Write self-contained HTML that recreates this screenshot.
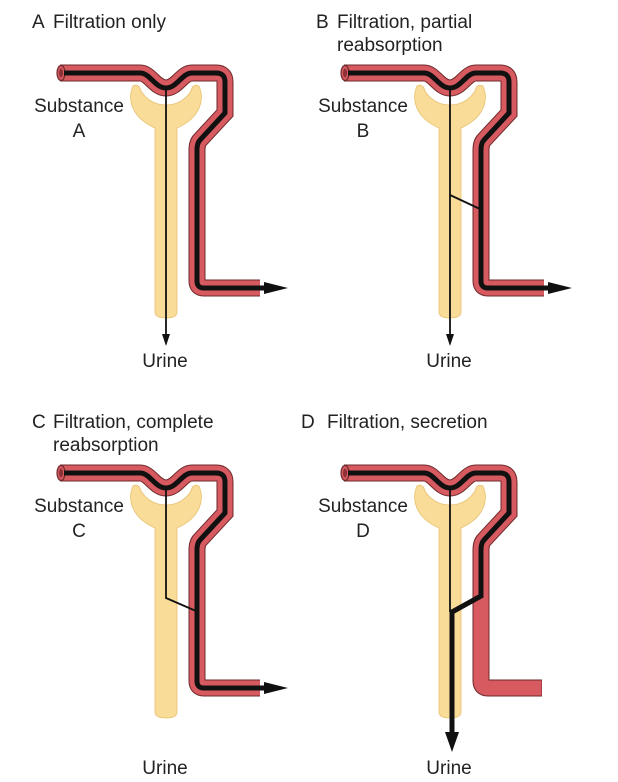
<!DOCTYPE html>
<html><head><meta charset="utf-8"><style>
html,body{margin:0;padding:0;background:#fff;}
svg{display:block;}
text{font-family:"Liberation Sans",Arial,sans-serif;font-size:19px;fill:#222;}
</style></head><body>
<svg width="618" height="782" viewBox="0 0 618 782">
<defs>
<path id="ves" d="M60,73 L140,73 C150,73 155,88 166,88 C177,88 182,73 192,73 L216,73 Q225,73 225,82 L225,113 L200,140 Q197,143 197,150 L197,281 Q197,288 204,288 L260,288"/>
<path id="cup" d="M133,86 C127,100 132,118 155,128 L155,312 Q155,318 166,318 Q177,318 177,312 L177,128 C200,118 205,100 199,86 C195,84 192,86 191,91 C185,101 175,105 166,105 C157,105 147,101 141,91 C140,86 136,84 133,86 Z" fill="#f9dc97" stroke="#e8c070" stroke-width="0.8"/>
<g id="base">
<use href="#cup"/>
<use href="#ves" fill="none" stroke="#6e2a2c" stroke-width="17"/>
<use href="#ves" fill="none" stroke="#d65a60" stroke-width="15"/>
<ellipse cx="61" cy="73" rx="4" ry="7.5" fill="#d65a60" stroke="#6e2a2c" stroke-width="1.2"/>
<ellipse cx="61" cy="73" rx="2" ry="4.5" fill="#8c3236"/>
</g>
</defs>

<text x="32" y="28">A</text><text x="53" y="28">Filtration only</text>
<g>
<use href="#base"/>
<path d="M64,73 L140,73 C150,73 155,88 166,88 C177,88 182,73 192,73 L216,73 Q225,73 225,82 L225,113 L200,140 Q197,143 197,150 L197,281 Q197,288 204,288 L266,288" fill="none" stroke="#111" stroke-width="5"/>
<polygon points="264,282 288,288 264,294" fill="#111"/>
<line x1="166" y1="88" x2="166" y2="336" stroke="#111" stroke-width="1.8"/>
<polygon points="162,334 166,346 170,334" fill="#111"/>
</g>
<text x="79" y="112" text-anchor="middle">Substance</text><text x="79" y="137" text-anchor="middle">A</text>
<text x="165" y="367" text-anchor="middle">Urine</text>

<text x="316" y="28">B</text><text x="337" y="28">Filtration, partial</text><text x="337" y="51">reabsorption</text>
<g transform="translate(284,0)">
<use href="#base"/>
<path d="M64,73 L140,73 C150,73 155,88 166,88 C177,88 182,73 192,73 L216,73 Q225,73 225,82 L225,113 L200,140 Q197,143 197,150 L197,281 Q197,288 204,288 L266,288" fill="none" stroke="#111" stroke-width="5"/>
<polygon points="264,282 288,288 264,294" fill="#111"/>
<line x1="166" y1="88" x2="166" y2="336" stroke="#111" stroke-width="1.8"/>
<line x1="166" y1="195" x2="196" y2="209" stroke="#111" stroke-width="1.8"/>
<polygon points="162,334 166,346 170,334" fill="#111"/>
</g>
<text x="363" y="112" text-anchor="middle">Substance</text><text x="363" y="137" text-anchor="middle">B</text>
<text x="449" y="367" text-anchor="middle">Urine</text>

<text x="32" y="428">C</text><text x="53" y="428">Filtration, complete</text><text x="53" y="451">reabsorption</text>
<g transform="translate(0,400)">
<use href="#base"/>
<path d="M64,73 L140,73 C150,73 155,88 166,88 C177,88 182,73 192,73 L216,73 Q225,73 225,82 L225,113 L200,140 Q197,143 197,150 L197,281 Q197,288 204,288 L266,288" fill="none" stroke="#111" stroke-width="5"/>
<polygon points="264,282 288,288 264,294" fill="#111"/>
<polyline points="166,88 166,198 196,211" fill="none" stroke="#111" stroke-width="1.8"/>
</g>
<text x="79" y="512" text-anchor="middle">Substance</text><text x="79" y="537" text-anchor="middle">C</text>
<text x="165" y="774" text-anchor="middle">Urine</text>

<text x="301" y="428">D</text><text x="327" y="428">Filtration, secretion</text>
<g transform="translate(284,400)">
<use href="#cup"/>
<path d="M60,73 L140,73 C150,73 155,88 166,88 C177,88 182,73 192,73 L216,73 Q225,73 225,82 L225,113 L200,140 Q197,143 197,150 L197,281 Q197,288 204,288 L258,288" fill="none" stroke="#6e2a2c" stroke-width="17"/>
<path d="M60,73 L140,73 C150,73 155,88 166,88 C177,88 182,73 192,73 L216,73 Q225,73 225,82 L225,113 L200,140 Q197,143 197,150 L197,281 Q197,288 204,288 L257.5,288" fill="none" stroke="#d65a60" stroke-width="15"/>
<ellipse cx="61" cy="73" rx="4" ry="7.5" fill="#d65a60" stroke="#6e2a2c" stroke-width="1.2"/>
<ellipse cx="61" cy="73" rx="2" ry="4.5" fill="#8c3236"/>
<path d="M64,73 L140,73 C150,73 155,88 166,88 C177,88 182,73 192,73 L216,73 Q225,73 225,82 L225,113 L200,140 Q197,143 197,150 L197,196 L168,212 L168,336" fill="none" stroke="#111" stroke-width="5"/>
<line x1="166" y1="88" x2="166" y2="212" stroke="#111" stroke-width="1.8"/>
<polygon points="161,332 168,352 175,332" fill="#111"/>
</g>
<text x="363" y="512" text-anchor="middle">Substance</text><text x="363" y="537" text-anchor="middle">D</text>
<text x="449" y="774" text-anchor="middle">Urine</text>
</svg>
</body></html>
